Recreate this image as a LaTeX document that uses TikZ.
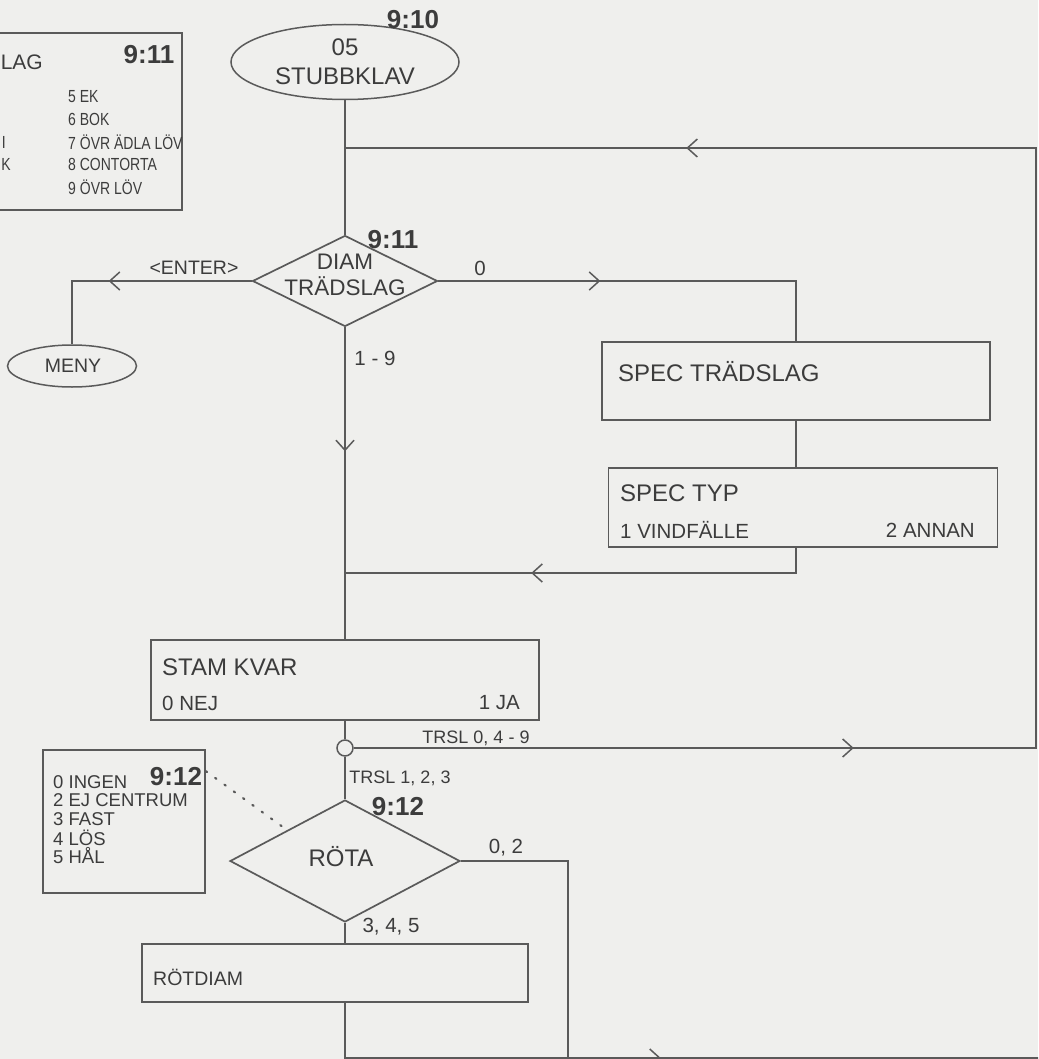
\documentclass[tikz,border=0pt]{standalone}
\usepackage{fontspec}
\setmainfont{Liberation Sans}
\newfontfamily\narrowfont[FakeStretch=0.8]{Liberation Sans}
\usetikzlibrary{shapes.geometric,arrows.meta,decorations.markings}
\definecolor{paper}{HTML}{EFEFED}
\definecolor{ink}{HTML}{5A5A5A}
\definecolor{tinta}{HTML}{3C3C3C}
\tikzset{
  box/.style={draw=ink, line width=1.7pt, rectangle, inner sep=0pt},
  oval/.style={draw=ink, line width=1.5pt, ellipse, inner sep=0pt},
  choice/.style={draw=ink, line width=1.7pt, diamond, inner sep=0pt},
  txt/.style={text=tinta, inner sep=0pt, font=\fontsize{20.5}{22}\selectfont},
  bigtxt/.style={txt, font=\fontsize{24}{29}\selectfont},
  smalltxt/.style={txt, font=\fontsize{17.5}{19}\narrowfont},
  listtxt/.style={txt, font=\fontsize{18.5}{20}\selectfont},
  ref/.style={txt, font=\fontsize{26}{28}\selectfont\bfseries},
  flow/.style={draw=ink, line width=1.7pt},
  chev/.style={postaction={decorate, decoration={markings,
    mark=at position #1 with {\arrow[ink]{Straight Barb[length=10pt,width=18pt,line width=1.5pt]}}}}},
}
\begin{document}
\begin{tikzpicture}[x=1pt, y=-1pt]
\useasboundingbox (0,0) rectangle (1038,1059);
\clip (0,0) rectangle (1038,1059);
\fill[paper] (0,0) rectangle (1038,1059);

% boxes and shapes
\node[oval, minimum width=228pt, minimum height=75pt] (stubb) at (345,62) {};
\node[box, minimum width=202pt, minimum height=177pt] (listA) at (81,121.5) {};
\node[choice, minimum width=185pt, minimum height=91pt] (diam) at (345,281) {};
\node[oval, minimum width=129pt, minimum height=42pt] (meny) at (72,366) {};
\node[box, minimum width=388pt, minimum height=78pt] (spec) at (796,381) {};
\node[box, minimum width=389pt, minimum height=79pt] (typ) at (803,507.5) {};
\node[box, minimum width=388pt, minimum height=80pt] (stam) at (345,680) {};
\node[draw=ink, line width=1.5pt, circle, fill=paper, minimum size=16pt, inner sep=0pt] (knot) at (345,748) {};
\node[box, minimum width=162pt, minimum height=143pt] (listB) at (124,821.5) {};
\node[choice, minimum width=230pt, minimum height=122pt] (rota) at (345,861) {};
\node[box, minimum width=386pt, minimum height=58pt] (rotdiam) at (335,973) {};

\coordinate (jtop) at (345,148);
\coordinate (rgt) at (1036,148);
\coordinate (jmid) at (345,573);
\coordinate (rbranch) at (568,1058);
\coordinate (bot) at (1042,1058);

% connectors
\draw[flow] (stubb.south) -- (diam.north);
\draw[flow, chev=500pt, chev=1632pt] (knot.east) -- (rgt |- knot.east) -- (rgt) -- (jtop);
\draw[flow, chev=143pt] (diam.west) -- (meny.north |- diam.west) -- (meny.north);
\draw[flow, chev=162pt] (diam.east) -- (spec.north |- diam.east) -- (spec.north);
\draw[flow] (spec.south) -- (spec.south |- typ.north);
\draw[flow, chev=290pt] (spec.south |- typ.south) -- (spec.south |- jmid) -- (jmid);
\draw[flow, chev=124pt] (diam.south) -- (stam.north);
\draw[flow] (stam.south) -- (knot.north);
\draw[flow] (knot.south) -- (rota.north);
\draw[flow] (rota.south) -- (rota.south |- rotdiam.north);
\draw[flow, chev=371pt] (rota.south |- rotdiam.south) -- (rota.south |- bot) -- (bot);
\draw[flow] (rota.east) -- (rbranch |- rota.east) -- (rbranch);
\draw[ink, line width=2.2pt, dash pattern=on 1.5pt off 10pt, line cap=round] ([yshift=-22pt]listB.north east) -- (rota.north west);

% texts
\node[ref] (r910) at (413,20) {9:10};
\node[bigtxt, align=center] (stubbtxt) at (345,62) {05\\STUBBKLAV};
\node[bigtxt, font=\fontsize{21}{24}\selectfont, anchor=east] (listAhead) at (43,62) {LAG};
\node[ref] (r911a) at (149,55) {9:11};
\node[smalltxt, anchor=west] (a5) at (68,97) {5 EK};
\node[smalltxt, anchor=west] (a6) at (68,119.5) {6 BOK};
\node[smalltxt, anchor=west] (a7) at (68,142) {7 ÖVR ÄDLA LÖV};
\node[smalltxt, anchor=west] (a8) at (68,164.5) {8 CONTORTA};
\node[smalltxt, anchor=west] (a9) at (68,187) {9 ÖVR LÖV};
\node[smalltxt, anchor=east] (a3) at (6,142) {I};
\node[smalltxt, anchor=east] (a4) at (11,164.5) {K};
\node[ref] (r911b) at (393,240) {9:11};
\node[bigtxt, align=center, font=\fontsize{22.5}{26}\selectfont] (diamtxt) at (345,275) {DIAM\\TRÄDSLAG};
\node[txt, font=\fontsize{19.5}{22}\selectfont] (enter) at (194,268) {<ENTER>};
\node[txt] (zero) at (480,268) {0};
\node[txt, font=\fontsize{19.5}{22}\selectfont] (menytxt) at (73,366) {MENY};
\node[txt] (oneto9) at (375,358) {1 - 9};
\node[bigtxt, anchor=west] (spectxt) at (618,372) {SPEC TRÄDSLAG};
\node[bigtxt, anchor=west] (typtxt) at (620,493) {SPEC TYP};
\node[txt, anchor=west] (vind) at (620,530) {1 VINDFÄLLE};
\node[txt, anchor=east] (annan) at (975,530) {2 ANNAN};
\node[bigtxt, anchor=west] (stamtxt) at (162,667) {STAM KVAR};
\node[txt, anchor=west] (nej) at (162,703) {0 NEJ};
\node[txt, anchor=east] (ja) at (520,703) {1 JA};
\node[txt, font=\fontsize{18}{20}\selectfont] (trslb) at (476,738) {TRSL 0, 4 - 9};
\node[txt, font=\fontsize{18}{20}\selectfont] (trsla) at (400,778) {TRSL 1, 2, 3};
\node[ref] (r912a) at (398,807) {9:12};
\node[ref] (r912b) at (176,777) {9:12};
\node[listtxt, anchor=west] (b0) at (53,782) {0 INGEN};
\node[listtxt, anchor=west] (b2) at (53,800.5) {2 EJ CENTRUM};
\node[listtxt, anchor=west] (b3) at (53,819) {3 FAST};
\node[listtxt, anchor=west] (b4) at (53,837.5) {4 LÖS};
\node[listtxt, anchor=west] (b5) at (53,856) {5 HÅL};
\node[bigtxt] (rotatxt) at (341,857) {RÖTA};
\node[txt] (noll2) at (506,848) {0, 2};
\node[txt] (tre45) at (391,927) {3, 4, 5};
\node[txt, font=\fontsize{19.5}{22}\selectfont, anchor=west] (rotdiamtxt) at (153,977) {RÖTDIAM};
\end{tikzpicture}
\end{document}
